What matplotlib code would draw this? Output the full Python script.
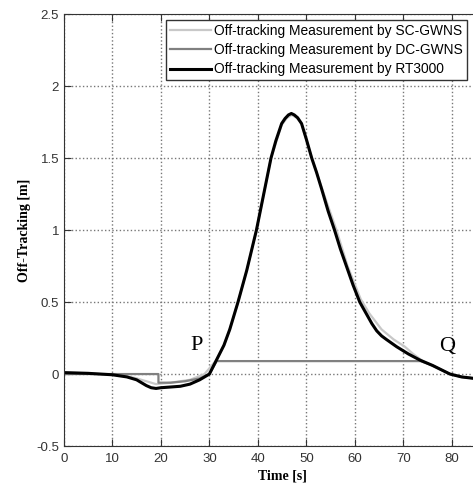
import numpy as np
import matplotlib.pyplot as plt

# RT3000 (reference, black)
t_rt = [0, 5, 10, 13, 15, 17, 18, 19, 20, 22, 24, 26, 28, 30, 31.5, 33, 34.2, 35.9,
        37.7, 38.7, 39.7, 41.2, 42.7, 43.7, 44.9, 45.6, 46.3, 46.9, 47.5, 48.2, 49,
        50, 51.1, 52.1, 53.1, 54.5, 55.8, 57, 58.3, 59.6, 61, 62.5, 63.5, 64.5, 65.5,
        66.5, 68.6, 71, 73.4, 76, 79.6, 82, 84.5]
v_rt = [0.01, 0.005, -0.005, -0.02, -0.04, -0.08, -0.095, -0.1, -0.095, -0.09,
        -0.085, -0.07, -0.04, 0.0, 0.1, 0.2, 0.31, 0.5, 0.72, 0.86, 1.0, 1.25, 1.5,
        1.62, 1.74, 1.775, 1.8, 1.81, 1.8, 1.78, 1.74, 1.63, 1.5, 1.4, 1.29, 1.13,
        1.0, 0.87, 0.745, 0.62, 0.5, 0.41, 0.35, 0.3, 0.265, 0.24, 0.19, 0.14, 0.097,
        0.06, 0.0, -0.02, -0.03]

# SC-GWNS (light gray)
t_sc = [0, 5, 10, 13, 15, 17, 19, 22, 26, 29, 31.5, 33, 34.2, 35.9, 37.7, 39.7,
        42.7, 44.9, 46, 47, 48, 49, 51.1, 53.1, 56.2, 58.5, 61.2, 63, 65.5, 68, 70.3,
        72, 74, 77, 79.6, 82, 84.5]
v_sc = [0.01, 0.005, -0.005, -0.015, -0.03, -0.05, -0.07, -0.06, -0.04, 0.0, 0.1,
        0.2, 0.31, 0.5, 0.72, 1.0, 1.5, 1.73, 1.78, 1.8, 1.78, 1.74, 1.5, 1.3, 1.0,
        0.75, 0.52, 0.42, 0.31, 0.24, 0.19, 0.14, 0.09, 0.04, 0.0, -0.02, -0.03]

# DC-GWNS (mid gray)
t_dc = [0, 19.5, 19.5, 22, 25, 28, 30, 31.5, 73.5, 76, 79.6, 82, 84.5]
v_dc = [0.0, 0.0, -0.06, -0.06, -0.05, -0.03, 0.0, 0.09, 0.09, 0.06, 0.0, -0.02, -0.03]

plt.rcParams['font.family'] = ['Liberation Sans', 'DejaVu Sans']

fig = plt.figure(figsize=(4.73, 4.88), dpi=100)
ax = fig.add_axes([0.135, 0.086, 0.923, 0.885])

ax.plot(t_sc, v_sc, color="#c8c8c8", lw=1.6, label="Off-tracking Measurement by SC-GWNS")
ax.plot(t_dc, v_dc, color="#808080", lw=1.6, label="Off-tracking Measurement by DC-GWNS")
ax.plot(t_rt, v_rt, color="black", lw=2.2, label="Off-tracking Measurement by RT3000")

ax.set_xlim(0, 90)
ax.set_ylim(-0.5, 2.5)
ax.set_xticks(np.arange(0, 81, 10))
ax.set_yticks([-0.5, 0, 0.5, 1, 1.5, 2, 2.5])
ax.set_yticklabels(["-0.5", "0", "0.5", "1", "1.5", "2", "2.5"])
ax.grid(True, linestyle=":", color="#777777", lw=1)
ax.tick_params(direction="in", top=True, right=True, labelsize=9.5, colors="#333333",
               length=5)
ax.tick_params(axis="x", pad=5)
for s in ax.spines.values():
    s.set_color("#333333")

ax.set_xlabel("Time [s]", family="Liberation Serif", fontweight="bold", fontsize=10,
              labelpad=3)
ax.set_ylabel("Off-Tracking [m]", family="Liberation Serif", fontweight="bold",
              fontsize=10, labelpad=4)

ax.text(27.4, 0.2, "P", family="Liberation Serif", fontsize=16, ha="center", va="center")
ax.text(79, 0.19, "Q", family="Liberation Serif", fontsize=16, ha="center", va="center")

leg = ax.legend(loc="upper left", bbox_to_anchor=(0.233, 0.987), fontsize=9.9,
                fancybox=False, edgecolor="#333333", framealpha=1,
                handlelength=3.0, handletextpad=0.2, borderpad=0.3, labelspacing=0.38,
                borderaxespad=0)
leg.get_frame().set_linewidth(1.0)

fig.savefig("out.png")
